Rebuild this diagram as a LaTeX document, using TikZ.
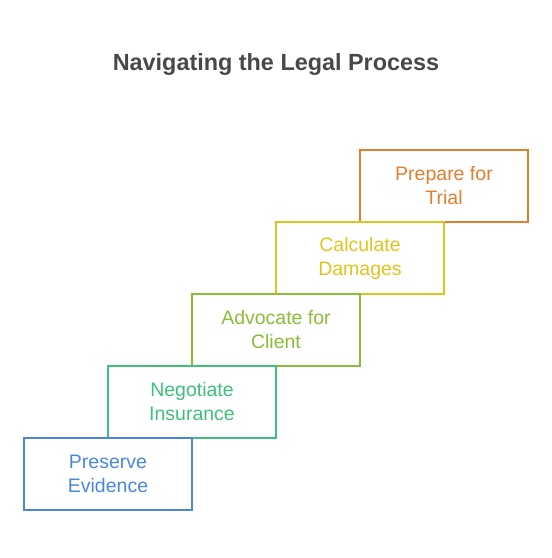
\documentclass[tikz,border=0pt]{standalone}
\usepackage{fontspec}
\setmainfont{Liberation Sans}
\definecolor{trialc}{HTML}{E07F2F}
\definecolor{damagec}{HTML}{DEC51C}
\definecolor{clientc}{HTML}{8DBB3A}
\definecolor{insurc}{HTML}{3FBF7B}
\definecolor{evidc}{HTML}{4A86DF}
\definecolor{titlec}{HTML}{484848}
\tikzset{
  stepbox/.style={draw=#1,text=#1,line width=1.5pt,minimum width=168pt,minimum height=72pt,
    inner sep=0pt,outer sep=0pt,align=center,font=\fontsize{19.5}{24}\selectfont},
}
\begin{document}
\begin{tikzpicture}[x=1pt,y=-1pt]
\useasboundingbox (0,0) rectangle (552,558);
\node[font=\bfseries\fontsize{23.4}{27}\selectfont,text=titlec] (title) at (276,64) {Navigating the Legal Process};
\node[stepbox=trialc] (trial) at (444,186) {Prepare for\\Trial};
\node[stepbox=damagec] (damage) at (360,258) {Calculate\\Damages};
\node[stepbox=clientc] (client) at (276,330) {Advocate for\\Client};
\node[stepbox=insurc] (insur) at (192,402) {Negotiate\\Insurance};
\node[stepbox=evidc] (evid) at (108,474) {Preserve\\Evidence};
\end{tikzpicture}
\end{document}
